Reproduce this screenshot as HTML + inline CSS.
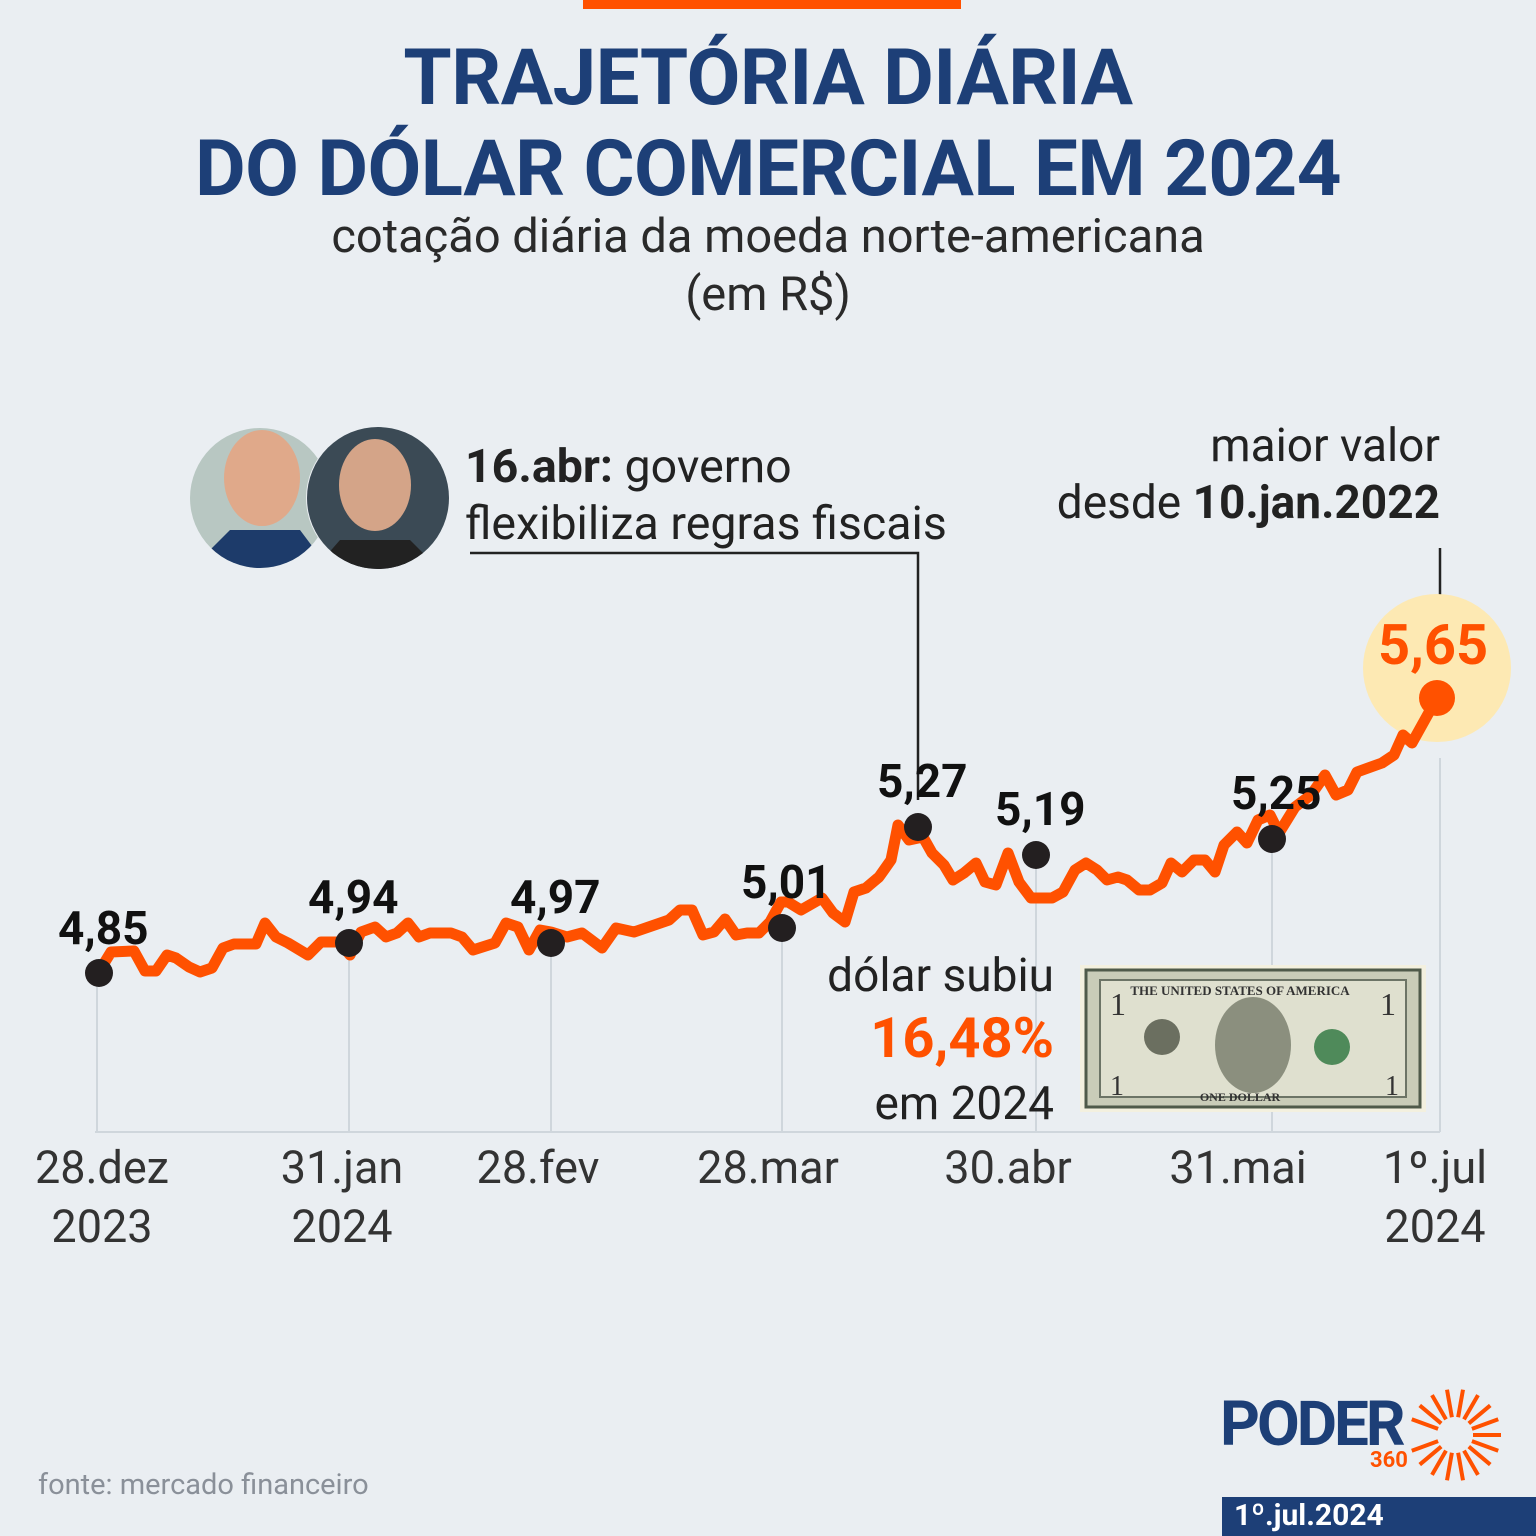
<!DOCTYPE html>
<html><head><meta charset="utf-8"><style>
html,body{margin:0;padding:0}
body{width:1536px;height:1536px;background:#eaeef2;position:relative;overflow:hidden;font-family:"Roboto","Liberation Sans",sans-serif}
.t{position:absolute;white-space:nowrap}
</style></head><body>
<div style="position:absolute;left:583px;top:0;width:378px;height:9px;background:#ff5100"></div>
<div class="t" style="left:0;width:1536px;text-align:center;top:33px;font-size:78px;font-weight:bold;color:#1d3f77;line-height:91px;letter-spacing:-0.5px">TRAJETÓRIA DIÁRIA<br>DO DÓLAR COMERCIAL EM 2024</div>
<div class="t" style="left:0;width:1536px;text-align:center;top:208px;font-size:47px;color:#2a2a2a;line-height:58px">cotação diária da moeda norte-americana<br>(em R$)</div>

<svg width="1536" height="1536" style="position:absolute;left:0;top:0">
<defs><clipPath id="c1"><circle cx="260" cy="498" r="70"/></clipPath><clipPath id="c2"><circle cx="378" cy="498" r="71"/></clipPath></defs>
<g clip-path="url(#c1)"><rect x="180" y="420" width="160" height="160" fill="#b8c7c2"/><ellipse cx="262" cy="478" rx="38" ry="48" fill="#e0a98a"/><path d="M190 570 L230 530 L300 530 L330 570Z" fill="#1d3b6a"/></g>
<circle cx="378" cy="498" r="72" fill="#eaeef2"/>
<g clip-path="url(#c2)"><rect x="300" y="420" width="160" height="160" fill="#3b4a55"/><ellipse cx="375" cy="485" rx="36" ry="46" fill="#d4a488"/><path d="M305 580 L340 540 L410 540 L450 580Z" fill="#222"/></g>
<polyline points="470,553 918,553 918,800" fill="none" stroke="#222" stroke-width="2.5"/>
<line x1="1440" y1="548" x2="1440" y2="595" stroke="#222" stroke-width="2.5"/>
<circle cx="1437" cy="668" r="74" fill="#fde9b3"/>
<g stroke="#cfd6dc" stroke-width="2">
<line x1="97" y1="973" x2="97" y2="1132"/><line x1="349" y1="943" x2="349" y2="1132"/><line x1="551" y1="943" x2="551" y2="1132"/><line x1="782" y1="928" x2="782" y2="1132"/><line x1="1036" y1="855" x2="1036" y2="1132"/><line x1="1272" y1="838" x2="1272" y2="1132"/><line x1="1440" y1="758" x2="1440" y2="1132"/>
<line x1="95" y1="1132" x2="1440" y2="1132"/></g>
<polyline fill="none" stroke="#ff5100" stroke-width="11" stroke-linejoin="round" stroke-linecap="round" points="100,970 111,952 134,951 145,971 156,971 167,955 176,958 189,967 200,972 212,968 223,948 234,944 256,944 265,923 276,937 288,943 308,955 321,942 339,942 350,955 361,932 375,927 386,937 397,933 408,923 419,937 430,933 451,933 462,937 473,950 495,943 506,923 518,927 529,950 540,930 551,932 567,937 582,933 602,948 616,928 634,932 669,920 680,910 692,910 703,935 714,932 725,919 736,935 747,933 759,933 770,922 781,902 788,902 801,910 822,898 833,913 845,922 854,892 866,888 879,877 891,860 898,825 909,840 923,837 932,853 944,865 953,880 964,873 976,863 985,882 996,885 1008,853 1019,882 1031,898 1052,898 1063,892 1075,870 1086,863 1097,870 1107,880 1118,877 1127,880 1139,890 1150,890 1162,883 1171,863 1182,872 1194,860 1205,860 1215,872 1224,845 1237,832 1247,843 1258,820 1270,815 1279,833 1295,807 1311,795 1325,775 1336,795 1348,790 1357,772 1382,763 1394,755 1403,735 1412,743 1437,698"/>
<g fill="#231f20"><circle cx="99" cy="973" r="14"/><circle cx="349" cy="943" r="14"/><circle cx="551" cy="943" r="14"/><circle cx="782" cy="928" r="14"/><circle cx="918" cy="827" r="14"/><circle cx="1036" cy="855" r="14"/><circle cx="1272" cy="839" r="14"/></g>
<circle cx="1437" cy="698" r="18" fill="#ff5100"/>
<rect x="1080" y="965" width="346" height="147" fill="#f3f0df"/>
<rect x="1086" y="970" width="334" height="137" fill="#c9ccb8" stroke="#4f5a4a" stroke-width="3"/>
<rect x="1100" y="980" width="306" height="117" fill="#dfe0cf" stroke="#6c7466" stroke-width="2"/>
<ellipse cx="1253" cy="1045" rx="38" ry="48" fill="#8b8f7e"/><circle cx="1162" cy="1037" r="18" fill="#6b6f60"/><circle cx="1332" cy="1047" r="18" fill="#4f8a5a"/>
<text x="1240" y="995" font-size="13" font-weight="bold" font-family="Liberation Serif" text-anchor="middle" fill="#333">THE UNITED STATES OF AMERICA</text>
<text x="1240" y="1101" font-size="12" font-weight="bold" font-family="Liberation Serif" text-anchor="middle" fill="#333">ONE DOLLAR</text>
<text x="1110" y="1015" font-size="32" font-family="Liberation Serif" fill="#333">1</text><text x="1380" y="1015" font-size="32" font-family="Liberation Serif" fill="#333">1</text>
<text x="1110" y="1095" font-size="28" font-family="Liberation Serif" fill="#333">1</text><text x="1385" y="1095" font-size="28" font-family="Liberation Serif" fill="#333">1</text>
</svg>

<div class="t" style="left:465px;top:439px;font-size:46.5px;color:#222;line-height:57px"><b>16.abr:</b> governo<br>flexibiliza regras fiscais</div>
<div class="t" style="right:96px;top:418px;font-size:46px;color:#222;line-height:57px;text-align:right">maior valor<br>desde <b>10.jan.2022</b></div>
<div class="t" style="left:1378px;top:612px;font-size:56px;font-weight:bold;color:#ff5100">5,65</div>
<div class="t" style="left:58px;top:902px;font-size:46px;font-weight:bold;color:#111">4,85</div>
<div class="t" style="left:308px;top:871px;font-size:46px;font-weight:bold;color:#111">4,94</div>
<div class="t" style="left:510px;top:871px;font-size:46px;font-weight:bold;color:#111">4,97</div>
<div class="t" style="left:741px;top:856px;font-size:46px;font-weight:bold;color:#111">5,01</div>
<div class="t" style="left:877px;top:755px;font-size:46px;font-weight:bold;color:#111">5,27</div>
<div class="t" style="left:995px;top:783px;font-size:46px;font-weight:bold;color:#111">5,19</div>
<div class="t" style="left:1231px;top:767px;font-size:46px;font-weight:bold;color:#111">5,25</div>
<div class="t" style="right:482px;top:945px;font-size:46px;color:#222;text-align:right;line-height:62px">dólar subiu<br><b style="color:#ff5100;font-size:56px">16,48%</b><br>em 2024</div>
<div class="t" style="left:0;top:1138px;width:1536px;font-size:45px;color:#333;line-height:59px">
<span class="t" style="left:102px;transform:translateX(-50%);text-align:center">28.dez<br>2023</span>
<span class="t" style="left:342px;transform:translateX(-50%);text-align:center">31.jan<br>2024</span>
<span class="t" style="left:538px;transform:translateX(-50%);text-align:center">28.fev</span>
<span class="t" style="left:768px;transform:translateX(-50%);text-align:center">28.mar</span>
<span class="t" style="left:1008px;transform:translateX(-50%);text-align:center">30.abr</span>
<span class="t" style="left:1238px;transform:translateX(-50%);text-align:center">31.mai</span>
<span class="t" style="left:1435px;transform:translateX(-50%);text-align:center">1º.jul<br>2024</span>
</div>
<div class="t" style="left:38px;top:1468px;font-size:29px;color:#8a9099">fonte: mercado financeiro</div>
<div class="t" style="left:1220px;top:1388px;font-size:62px;font-weight:bold;color:#1d3f77;letter-spacing:-3px">PODER</div>
<div class="t" style="left:1370px;top:1448px;font-size:22px;font-weight:bold;color:#ff5100">360</div>
<svg width="100" height="100" style="position:absolute;left:1405px;top:1385px" viewBox="-50 -50 100 100">
<g stroke="#ff5100" stroke-width="4">
<line x1="18" y1="0" x2="46" y2="0" transform="rotate(0)"/><line x1="18" y1="0" x2="46" y2="0" transform="rotate(20)"/><line x1="18" y1="0" x2="46" y2="0" transform="rotate(40)"/><line x1="18" y1="0" x2="46" y2="0" transform="rotate(60)"/><line x1="18" y1="0" x2="46" y2="0" transform="rotate(80)"/><line x1="18" y1="0" x2="46" y2="0" transform="rotate(100)"/><line x1="18" y1="0" x2="46" y2="0" transform="rotate(120)"/><line x1="18" y1="0" x2="46" y2="0" transform="rotate(140)"/><line x1="18" y1="0" x2="46" y2="0" transform="rotate(-20)"/><line x1="18" y1="0" x2="46" y2="0" transform="rotate(-40)"/><line x1="18" y1="0" x2="46" y2="0" transform="rotate(-60)"/><line x1="18" y1="0" x2="46" y2="0" transform="rotate(-80)"/><line x1="18" y1="0" x2="46" y2="0" transform="rotate(-100)"/><line x1="18" y1="0" x2="46" y2="0" transform="rotate(-120)"/><line x1="18" y1="0" x2="46" y2="0" transform="rotate(-140)"/><line x1="18" y1="0" x2="46" y2="0" transform="rotate(160)"/><line x1="18" y1="0" x2="46" y2="0" transform="rotate(-160)"/>
</g></svg>
<div style="position:absolute;left:1222px;top:1497px;width:314px;height:39px;background:#1d3f77"></div>
<div class="t" style="left:1234px;top:1498px;font-size:30px;font-weight:bold;color:#fff">1º.jul.2024</div>
</body></html>
